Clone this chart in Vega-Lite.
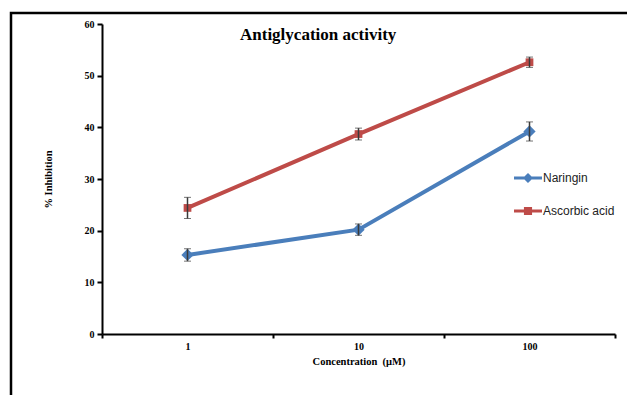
{
  "$schema": "https://vega.github.io/schema/vega-lite/v6.json",
  "autosize": "none",
  "padding": {"left": 11, "top": 13, "right": 0, "bottom": 0},
  "width": 640,
  "height": 400,
  "background": "white",
  "title": {
    "text": "Antiglycation activity",
    "anchor": "start",
    "frame": "group",
    "orient": "top",
    "dx": 229,
    "offset": -31,
    "font": "Liberation Serif",
    "fontSize": 17,
    "fontWeight": "bold",
    "color": "black"
  },
  "data": {
    "values": [
      {"conc": "1", "series": "Naringin", "inhibition": 15.3, "err": 1.2},
      {"conc": "10", "series": "Naringin", "inhibition": 20.2, "err": 1.1},
      {"conc": "100", "series": "Naringin", "inhibition": 39.2, "err": 1.85},
      {"conc": "1", "series": "Ascorbic acid", "inhibition": 24.4, "err": 2.05},
      {"conc": "10", "series": "Ascorbic acid", "inhibition": 38.7, "err": 1.15},
      {"conc": "100", "series": "Ascorbic acid", "inhibition": 52.6, "err": 1.0}
    ]
  },
  "encoding": {
    "x": {
      "field": "conc",
      "type": "ordinal",
      "sort": ["1", "10", "100"],
      "scale": {"type": "band", "domain": ["1", "10", "100"], "range": [91, 604], "paddingInner": 0, "paddingOuter": 0},
      "axis": {
        "offset": -79,
        "title": "Concentration \u00a0(μM)",
        "tickBand": "extent",
        "labelAngle": 0,
        "domainColor": "black",
        "domainWidth": 2,
        "tickColor": "black",
        "tickWidth": 2,
        "tickSize": 4,
        "labelFont": "Liberation Serif",
        "labelFontSize": 10,
        "labelFontWeight": "bold",
        "labelColor": "black",
        "labelPadding": 3,
        "titleFont": "Liberation Serif",
        "titleFontSize": 10.5,
        "titleFontWeight": "bold",
        "titleColor": "black",
        "titlePadding": 5,
        "grid": false
      }
    },
    "y": {
      "field": "inhibition",
      "type": "quantitative",
      "scale": {"domain": [0, 60], "range": [321, 11], "nice": false, "zero": true},
      "axis": {
        "offset": -91,
        "title": "% Inhibition",
        "values": [0, 10, 20, 30, 40, 50, 60],
        "domainColor": "black",
        "domainWidth": 2,
        "tickColor": "black",
        "tickWidth": 2,
        "tickSize": 5,
        "labelFont": "Liberation Serif",
        "labelFontSize": 10,
        "labelFontWeight": "bold",
        "labelColor": "black",
        "labelPadding": 3,
        "titleFont": "Liberation Serif",
        "titleFontSize": 10.5,
        "titleFontWeight": "bold",
        "titleColor": "black",
        "titleX": -54,
        "titleBaseline": "middle",
        "grid": false
      }
    },
    "color": {
      "field": "series",
      "type": "nominal",
      "scale": {"domain": ["Naringin", "Ascorbic acid"], "range": ["#4A7EBB", "#BE4B48"]},
      "legend": {
        "title": null,
        "orient": "none",
        "legendX": 503,
        "legendY": 151,
        "padding": 0,
        "rowPadding": 13,
        "symbolSize": 784,
        "symbolType": "M-1,-0.11L1,-0.11L1,0.11L-1,0.11Z",
        "labelOffset": 1,
        "labelFont": "Liberation Sans",
        "labelFontSize": 12,
        "labelColor": "#222222",
        "encode": {
          "symbols": {
            "update": {
              "fill": {"scale": "color", "field": "value"},
              "stroke": {"value": "transparent"},
              "strokeWidth": {"value": 0},
              "size": {"value": 784},
              "opacity": {"value": 1},
              "shape": {"signal": "datum.value === 'Naringin' ? 'M-1,-0.11L1,-0.11L1,0.11L-1,0.11Z M0,-0.36L0.36,0L0,0.36L-0.36,0Z' : 'M-1,-0.11L1,-0.11L1,0.11L-1,0.11Z M-0.29,-0.29L0.29,-0.29L0.29,0.29L-0.29,0.29Z'"}
            }
          }
        }
      }
    }
  },
  "layer": [
    {
      "mark": {"type": "line", "strokeWidth": 4}
    },
    {
      "transform": [{"filter": "datum.series === 'Naringin'"}],
      "mark": {"type": "point", "filled": true, "opacity": 1, "shape": "diamond", "size": 150}
    },
    {
      "transform": [{"filter": "datum.series === 'Ascorbic acid'"}],
      "mark": {"type": "point", "filled": true, "opacity": 1, "shape": "square", "size": 60}
    },
    {
      "mark": {"type": "errorbar", "ticks": {"size": 7, "color": "#3a3a3a", "strokeWidth": 1.5}, "rule": {"color": "#3a3a3a", "strokeWidth": 1.5}},
      "encoding": {
        "yError": {"field": "err"},
        "color": {"value": "#3a3a3a"}
      }
    }
  ],
  "config": {
    "view": {"stroke": "black", "strokeWidth": 2.5}
  }
}
